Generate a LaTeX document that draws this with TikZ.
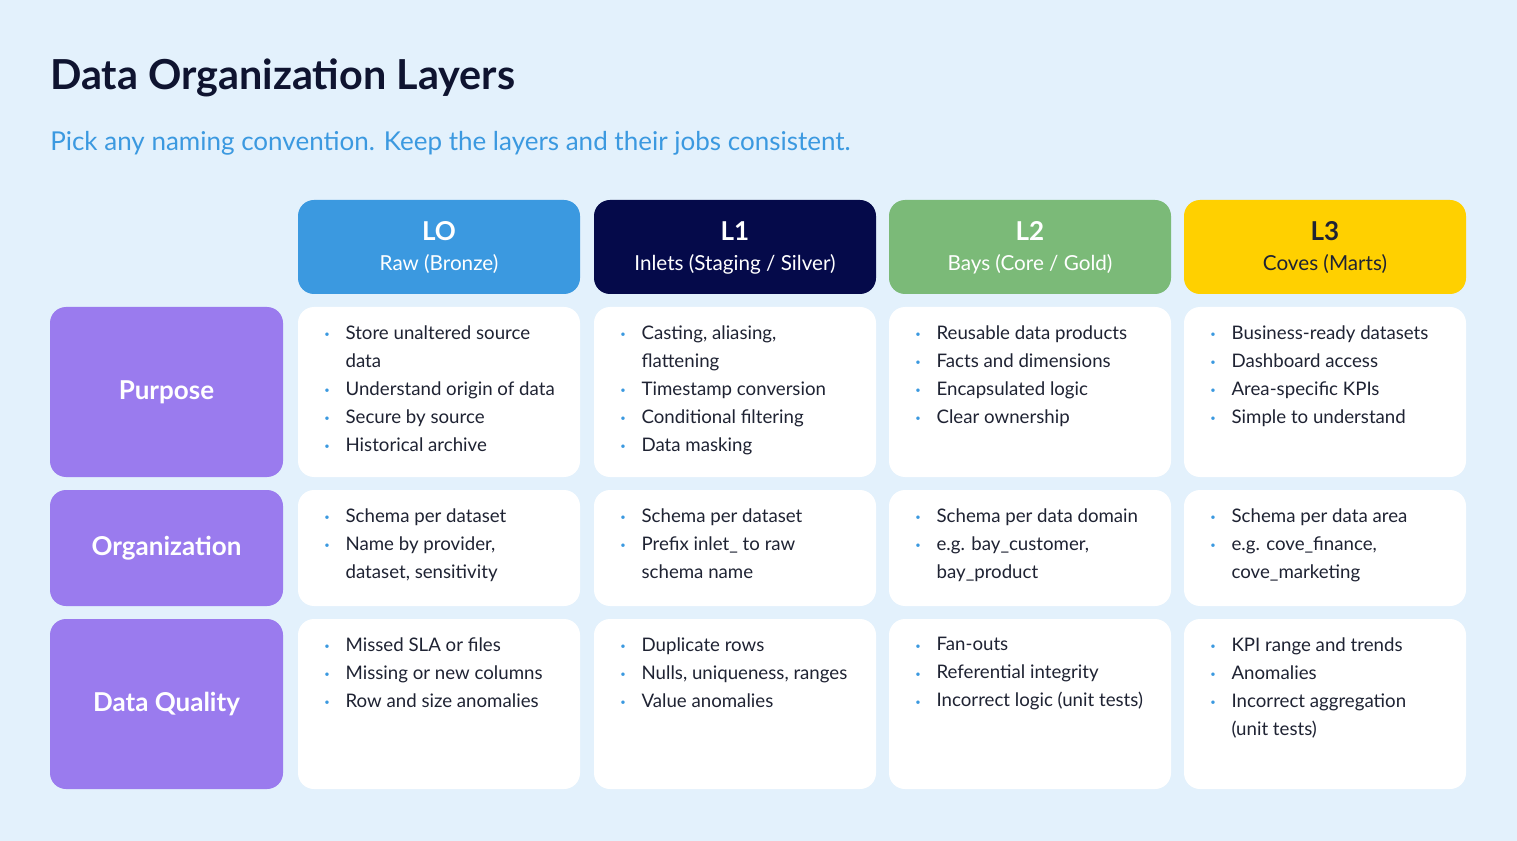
\documentclass[tikz,border=0pt]{standalone}
\usepackage{fontspec}
\setmainfont{Lato}
\definecolor{bg}{HTML}{E3F1FC}
\definecolor{lzero}{HTML}{3B99E0}
\definecolor{lone}{HTML}{050A4A}
\definecolor{ltwo}{HTML}{7BBA78}
\definecolor{lthree}{HTML}{FFD000}
\definecolor{purp}{HTML}{9A7BEE}
\definecolor{titlec}{HTML}{0F1430}
\definecolor{txt}{HTML}{1F2333}
\definecolor{dot}{HTML}{3B99E0}
\newcommand{\bl}[1]{\makebox[16pt][l]{\raisebox{1pt}{\color{dot}\scriptsize\textbullet}}#1\\}
\newcommand{\ct}[1]{\hspace*{16pt}#1\\}
\begin{document}
\begin{tikzpicture}[x=0.75pt,y=-0.75pt,
  card/.style={fill=white,rounded corners=12pt,draw=none},
  hdr/.style={rounded corners=12pt,draw=none},
  cell/.style={anchor=north west,inner sep=0pt,align=left,font=\fontsize{14}{21}\selectfont,text=txt},
  lab/.style={text=white,font=\fontsize{19.5}{22}\selectfont\bfseries}]
\fill[bg] (0,0) rectangle (1517,841);
\useasboundingbox (0,0) rectangle (1517,841);
\node[anchor=west,inner sep=0,text=titlec,font=\fontsize{31}{36}\selectfont\bfseries] (title) at (50,78) {Data Organization Layers};
\node[anchor=west,inner sep=0,text=lzero,font=\fontsize{19.5}{24}\selectfont] (sub) at (50,143) {Pick any naming convention. Keep the layers and their jobs consistent.};
% headers
\foreach \x/\c/\t/\s/\tc in {298/lzero/LO/{Raw (Bronze)}/white,594/lone/L1/{Inlets (Staging / Silver)}/white,889/ltwo/L2/{Bays (Core / Gold)}/white,1184/lthree/L3/{Coves (Marts)}/txt}{
  \fill[hdr,\c] (\x,200) rectangle ++(282,94);
  \node[text=\tc,font=\fontsize{19.5}{22}\selectfont\bfseries] at (\x+141,231) {\t};
  \node[text=\tc,font=\fontsize{15.5}{18}\selectfont] at (\x+141,264) {\s};
}
% rows
\foreach \y/\h/\l in {307/170/Purpose,490/116/Organization,619/170/{Data Quality}}{
  \fill[hdr,purp] (50,\y) rectangle ++(233,\h);
  \node[lab] at (166.5,\y+0.5*\h) {\l};
  \foreach \x in {298,594,889,1184}{\fill[card] (\x,\y) rectangle ++(282,\h);}
}
\def\ya{325}\def\yb{508}\def\yc{637}
\node[cell] (a0) at (324,\ya) {\bl{Store unaltered source}\ct{data}\bl{Understand origin of data}\bl{Secure by source}\bl{Historical archive}};
\node[cell] (a1) at (620,\ya) {\bl{Casting, aliasing,}\ct{flattening}\bl{Timestamp conversion}\bl{Conditional filtering}\bl{Data masking}};
\node[cell] (a2) at (915,\ya) {\bl{Reusable data products}\bl{Facts and dimensions}\bl{Encapsulated logic}\bl{Clear ownership}};
\node[cell] (a3) at (1210,\ya) {\bl{Business-ready datasets}\bl{Dashboard access}\bl{Area-specific KPIs}\bl{Simple to understand}};
\node[cell] (b0) at (324,\yb) {\bl{Schema per dataset}\bl{Name by provider,}\ct{dataset, sensitivity}};
\node[cell] (b1) at (620,\yb) {\bl{Schema per dataset}\bl{Prefix inlet\_ to raw}\ct{schema name}};
\node[cell] (b2) at (915,\yb) {\bl{Schema per data domain}\bl{e.g. bay\_customer,}\ct{bay\_product}};
\node[cell] (b3) at (1210,\yb) {\bl{Schema per data area}\bl{e.g. cove\_finance,}\ct{cove\_marketing}};
\node[cell] (c0) at (324,\yc) {\bl{Missed SLA or files}\bl{Missing or new columns}\bl{Row and size anomalies}};
\node[cell] (c1) at (620,\yc) {\bl{Duplicate rows}\bl{Nulls, uniqueness, ranges}\bl{Value anomalies}};
\node[cell] (c2) at (915,\yc) {\bl{Fan-outs}\bl{Referential integrity}\bl{Incorrect logic (unit tests)}};
\node[cell] (c3) at (1210,\yc) {\bl{KPI range and trends}\bl{Anomalies}\bl{Incorrect aggregation}\ct{(unit tests)}};
\end{tikzpicture}
\end{document}
